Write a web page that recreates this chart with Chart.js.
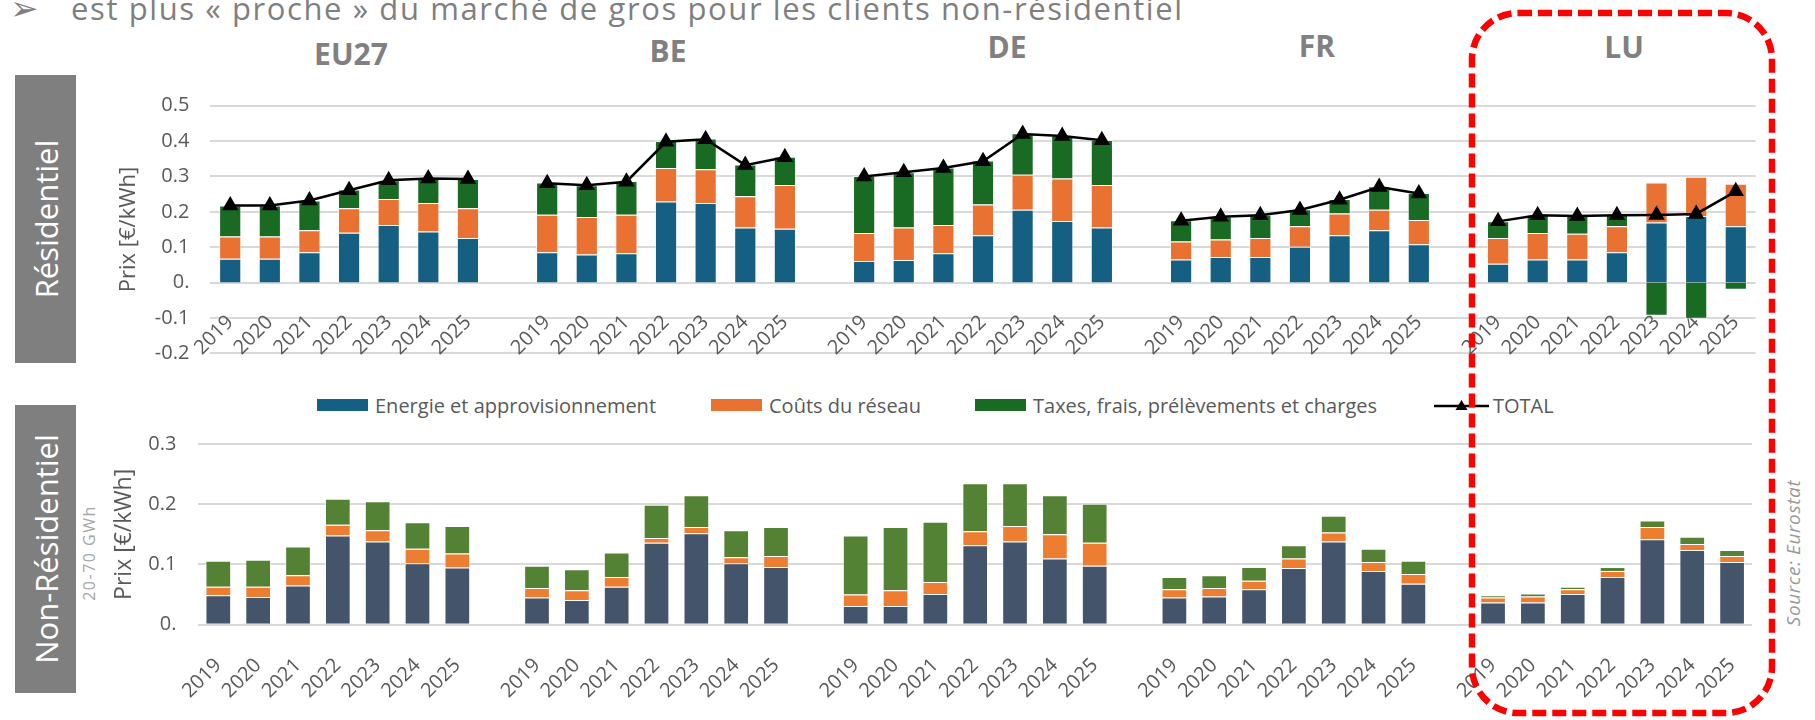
<!DOCTYPE html>
<html>
<head>
<meta charset="utf-8">
<script src="https://cdn.jsdelivr.net/npm/chart.js@4.4.1/dist/chart.umd.min.js"></script>
<style>
	body { margin: 0; width: 1815px; height: 720px; overflow: hidden; background: #fff; position: relative; font-family: "Open Sans", sans-serif; }
	.abs { position: absolute; white-space: nowrap; }
	canvas { position: absolute; left: 0; }
	.side { position: absolute; left: 15px; width: 61px; height: 288px; background: #7f7f7f; }
	.side span { position: absolute; left: 50%; top: 50%; transform: translate(-50%, -50%) rotate(-90deg); color: #fff; font-size: 31px; white-space: nowrap; }
	.grp { position: absolute; transform: translateX(-50%); font-size: 30px; font-weight: bold; color: #808080; line-height: 41px; }
	.rot { position: absolute; transform: translate(-50%, -50%) rotate(-90deg); white-space: nowrap; }
	.leg { position: absolute; top: 391px; height: 28px; display: flex; align-items: center; font-size: 20px; color: #595959; }
	.leg i { display: inline-block; width: 51px; height: 12px; margin-right: 7px; }
</style>
</head>
<body>

<div class="abs" style="left:10px; top:-14px; font-size:34px; line-height:44px; color:#7f7f7f; font-family:'DejaVu Sans';">➢</div>
<div class="abs" style="left:71px; top:-13px; font-size:31px; line-height:42px; letter-spacing:1.6px; color:#7f7f7f;">est plus « proche » du marché de gros pour les clients non-résidentiel</div>

<div class="side" style="top:75px;"><span>Résidentiel</span></div>
<div class="side" style="top:405px;"><span>Non-Résidentiel</span></div>

<div id="titles"></div>
<div id="legend"></div>

<div class="rot" style="left:89px; top:553px; font-size:16px; letter-spacing:1.5px; color:#a6a6a6;">20-70 GWh</div>
<div class="rot" style="left:1793px; top:553px; font-size:19px; font-style:italic; letter-spacing:0.6px; color:#999;">Source: Eurostat</div>

<canvas id="resChart" width="1815" height="330" style="top:60px;"></canvas>
<canvas id="proChart" width="1815" height="310" style="top:410px;"></canvas>
<canvas id="overlay" width="1815" height="720" style="top:0; pointer-events:none; z-index:5;"></canvas>

<script>
var groups = ['EU27', 'BE', 'DE', 'FR', 'LU'];
var years = ['2019', '2020', '2021', '2022', '2023', '2024', '2025'];

var seriesNames = ['Energie et approvisionnement', 'Coûts du réseau', 'Taxes, frais, prélèvements et charges'];
var totalName = 'TOTAL';

// Résidentiel, 7 years per group: EU27, BE, DE, FR, LU
var resEnergie = [
	0.067, 0.067, 0.086, 0.141, 0.163, 0.144, 0.126,
	0.086, 0.079, 0.083, 0.229, 0.225, 0.156, 0.152,
	0.061, 0.064, 0.083, 0.134, 0.206, 0.174, 0.156,
	0.065, 0.072, 0.072, 0.101, 0.134, 0.148, 0.108,
	0.053, 0.065, 0.065, 0.086, 0.170, 0.188, 0.159
];
var resReseau = [
	0.063, 0.063, 0.062, 0.069, 0.073, 0.081, 0.084,
	0.106, 0.106, 0.109, 0.095, 0.095, 0.088, 0.124,
	0.079, 0.092, 0.080, 0.087, 0.099, 0.120, 0.120,
	0.051, 0.050, 0.054, 0.058, 0.061, 0.058, 0.069,
	0.073, 0.075, 0.073, 0.073, 0.113, 0.111, 0.120
];
var resTaxes = [
	0.088, 0.088, 0.084, 0.053, 0.053, 0.069, 0.083,
	0.091, 0.090, 0.095, 0.076, 0.087, 0.090, 0.080,
	0.161, 0.156, 0.162, 0.124, 0.117, 0.122, 0.127,
	0.060, 0.065, 0.066, 0.048, 0.041, 0.066, 0.076,
	0.047, 0.052, 0.050, 0.033, -0.094, -0.102, -0.020
];
var resTotal = [
	0.218, 0.218, 0.232, 0.261, 0.289, 0.294, 0.293,
	0.281, 0.275, 0.285, 0.398, 0.405, 0.332, 0.354,
	0.300, 0.312, 0.324, 0.343, 0.420, 0.414, 0.402,
	0.175, 0.186, 0.190, 0.205, 0.234, 0.270, 0.252,
	0.173, 0.190, 0.188, 0.190, 0.191, 0.194, 0.258
];

// Non-résidentiel (20-70 GWh)
var proEnergie = [
	0.049, 0.046, 0.065, 0.148, 0.138, 0.102, 0.095,
	0.045, 0.041, 0.063, 0.136, 0.152, 0.102, 0.096,
	0.031, 0.031, 0.051, 0.132, 0.138, 0.110, 0.098,
	0.045, 0.047, 0.059, 0.094, 0.138, 0.089, 0.068,
	0.037, 0.037, 0.051, 0.079, 0.142, 0.124, 0.104
];
var proReseau = [
	0.014, 0.017, 0.017, 0.018, 0.019, 0.024, 0.023,
	0.016, 0.016, 0.016, 0.008, 0.010, 0.010, 0.018,
	0.019, 0.026, 0.020, 0.023, 0.026, 0.040, 0.038,
	0.014, 0.014, 0.014, 0.016, 0.015, 0.015, 0.016,
	0.008, 0.010, 0.008, 0.010, 0.020, 0.010, 0.010
];
var proTaxes = [
	0.043, 0.045, 0.048, 0.043, 0.048, 0.044, 0.046,
	0.037, 0.035, 0.041, 0.055, 0.053, 0.045, 0.048,
	0.098, 0.105, 0.100, 0.080, 0.071, 0.065, 0.065,
	0.020, 0.021, 0.023, 0.022, 0.028, 0.022, 0.022,
	0.004, 0.005, 0.004, 0.007, 0.011, 0.012, 0.010
];

var resColors = ['#156082', '#e97132', '#196b24'];
var proColors = ['#44546a', '#ed7d31', '#548235'];
var axisGrey = '#595959';
var gridGrey = '#d9d9d9';

// one empty category between two countries
function withGaps(values) {
	var out = [];
	groups.forEach(function(g, gi) {
		for (var i = 0; i < years.length; i++) {
			out.push(values[gi * years.length + i]);
		}
		if (gi < groups.length - 1) out.push(null);
	});
	return out;
}

var labels = [];
groups.forEach(function(g, gi) {
	years.forEach(function(y) { labels.push(y); });
	if (gi < groups.length - 1) labels.push('');
});

function tickLabel(value) {
	var v = Math.round(value * 10) / 10;
	return v === 0 ? '0.' : v.toFixed(1);
}

function barSets(series, colors, pct) {
	return series.map(function(values, i) {
		return {
			label: seriesNames[i],
			data: withGaps(values),
			backgroundColor: colors[i],
			borderColor: 'rgba(255,255,255,0.55)',
			borderWidth: 1,
			barPercentage: pct,
			categoryPercentage: 1,
			order: 1
		};
	});
}

var xFont = { family: 'Open Sans', size: 20 };
var yFont = { family: 'Open Sans', size: 20 };

var resSets = barSets([resEnergie, resReseau, resTaxes], resColors, 0.56);
resSets.push({
	type: 'line',
	label: totalName,
	data: withGaps(resTotal),
	borderColor: '#000',
	borderWidth: 2.5,
	pointStyle: 'triangle',
	pointRadius: 7,
	pointBackgroundColor: '#000',
	pointBorderColor: '#000',
	tension: 0,
	spanGaps: false,
	order: 0
});

new Chart(document.getElementById('resChart'), {
	type: 'bar',
	data: { labels: labels, datasets: resSets },
	options: {
		responsive: false,
		animation: false,
		layout: { padding: { left: 115.4, right: 59.4, top: 45.7, bottom: 36.7 } },
		plugins: { legend: { display: false }, tooltip: { enabled: false } },
		scales: {
			x: {
				position: { y: 0 },
				stacked: true,
				grid: { display: false },
				border: { display: false },
				ticks: { autoSkip: false, minRotation: 45, maxRotation: 45, padding: 20, color: axisGrey, font: xFont }
			},
			y: {
				stacked: true,
				min: -0.2,
				max: 0.5,
				grid: { color: gridGrey, lineWidth: 2, drawTicks: false },
				border: { display: false },
				ticks: { stepSize: 0.1, padding: 21, color: axisGrey, font: yFont, callback: tickLabel },
				title: { display: true, text: 'Prix [€/kWh]', color: axisGrey, font: { family: 'Open Sans', size: 22 }, padding: 0 },
				afterFit: function(scale) { scale.width = 95; }
			}
		}
	}
});

new Chart(document.getElementById('proChart'), {
	type: 'bar',
	data: { labels: labels, datasets: barSets([proEnergie, proReseau, proTaxes], proColors, 0.645) },
	options: {
		responsive: false,
		animation: false,
		layout: { padding: { left: 110.3, right: 63, top: 20.3, bottom: 15.3 } },
		plugins: { legend: { display: false }, tooltip: { enabled: false } },
		scales: {
			x: {
				stacked: true,
				grid: { display: false },
				border: { display: false },
				ticks: { autoSkip: false, minRotation: 45, maxRotation: 45, padding: 21, color: axisGrey, font: xFont },
				afterFit: function(scale) { scale.height = 80; }
			},
			y: {
				stacked: true,
				min: 0,
				max: 0.3,
				grid: { color: gridGrey, lineWidth: 2, drawTicks: false },
				border: { display: false },
				ticks: { stepSize: 0.1, padding: 22, color: axisGrey, font: yFont, callback: tickLabel },
				title: { display: true, text: 'Prix [€/kWh]', color: axisGrey, font: { family: 'Open Sans', size: 23 }, padding: 0 },
				afterFit: function(scale) { scale.width = 88.1; }
			}
		}
	}
});

// country titles
var titleX = [351, 668, 1007, 1317, 1624];
var titleTop = [33, 30, 26, 25, 26];
var titles = document.getElementById('titles');
groups.forEach(function(g, i) {
	var d = document.createElement('div');
	d.className = 'grp';
	d.style.left = titleX[i] + 'px';
	d.style.top = titleTop[i] + 'px';
	d.textContent = g;
	titles.appendChild(d);
});

// legend (colours of the residential chart)
var legendX = [317, 711, 975, 1434];
var legend = document.getElementById('legend');
seriesNames.forEach(function(name, i) {
	var item = document.createElement('div');
	item.className = 'leg';
	item.style.left = legendX[i] + 'px';
	item.innerHTML = '<i style="background:' + resColors[i] + '"></i>';
	item.appendChild(document.createTextNode(name));
	legend.appendChild(item);
});
var tot = document.createElement('div');
tot.className = 'leg';
tot.style.left = legendX[3] + 'px';
tot.innerHTML = '<svg width="55" height="14" style="margin-right:4px"><line x1="0" y1="8" x2="55" y2="8" stroke="#000" stroke-width="2.5"/><polygon points="27.5,2 33.5,12 21.5,12" fill="#000"/></svg>';
tot.appendChild(document.createTextNode(totalName));
legend.appendChild(tot);

// red dashed frame around LU
var oc = document.getElementById('overlay').getContext('2d');
function roundedRect(ctx, x, y, w, h, r) {
	ctx.beginPath();
	ctx.moveTo(x + r, y);
	ctx.lineTo(x + w - r, y);
	ctx.arcTo(x + w, y, x + w, y + r, r);
	ctx.lineTo(x + w, y + h - r);
	ctx.arcTo(x + w, y + h, x + w - r, y + h, r);
	ctx.lineTo(x + r, y + h);
	ctx.arcTo(x, y + h, x, y + h - r, r);
	ctx.lineTo(x, y + r);
	ctx.arcTo(x, y, x + r, y, r);
	ctx.closePath();
}
oc.strokeStyle = '#ff0000';
oc.lineWidth = 6.5;
oc.setLineDash([14, 6]);
roundedRect(oc, 1472, 13, 300, 700, 46);
oc.stroke();
</script>
</body>
</html>
